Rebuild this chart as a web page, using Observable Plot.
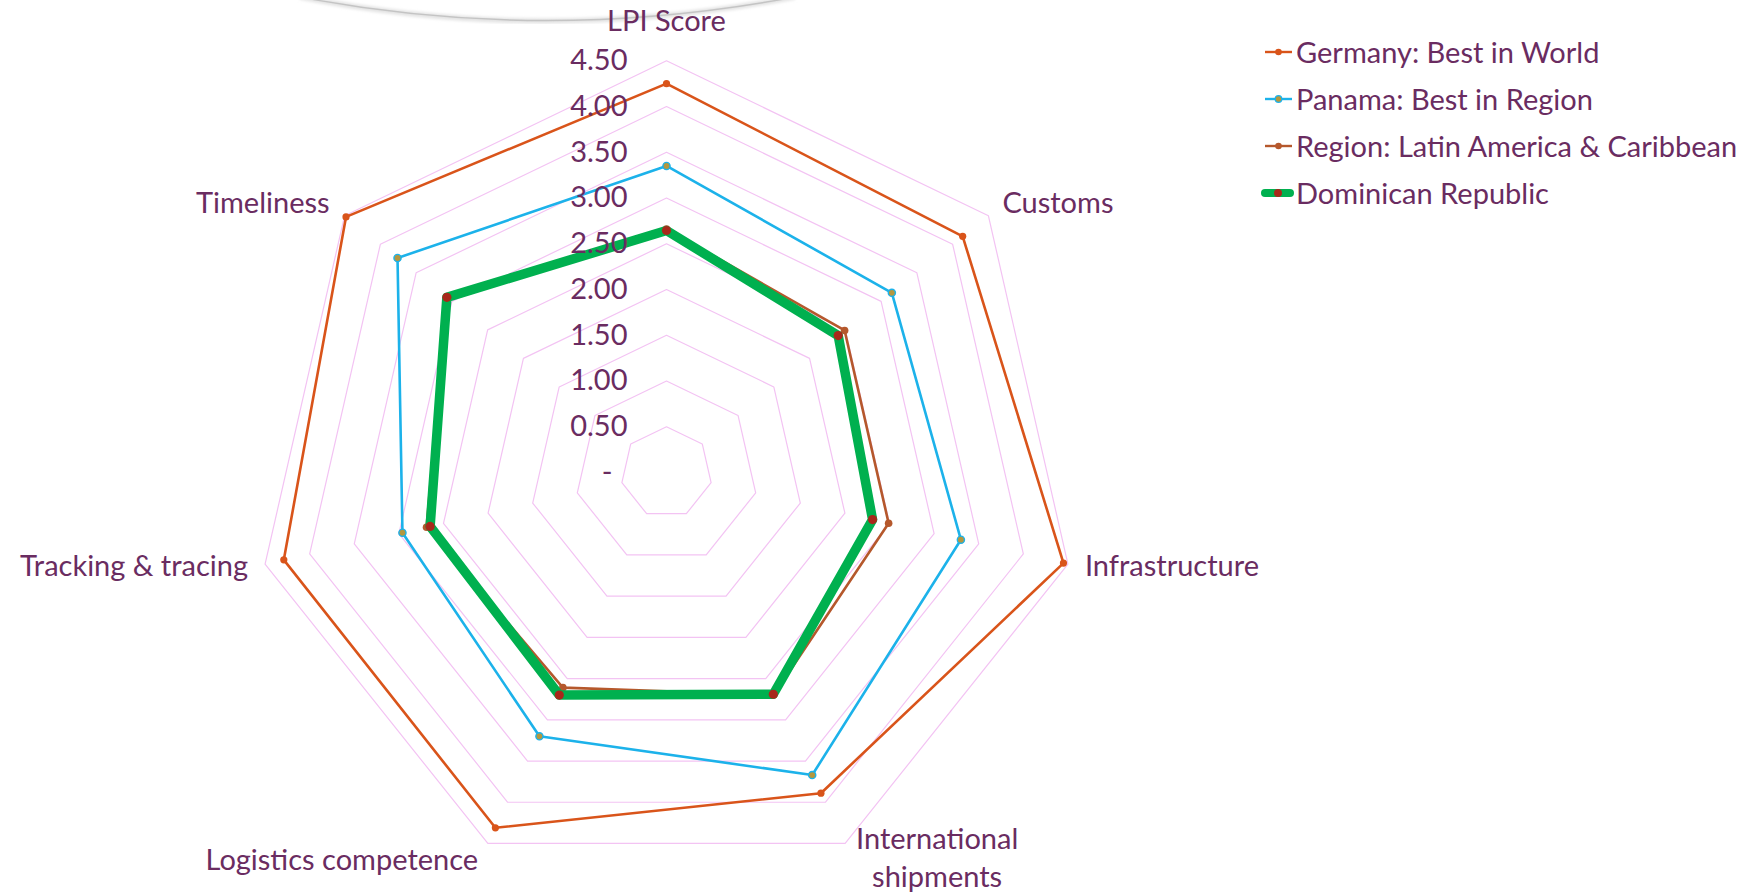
<!DOCTYPE html>
<html>
<head>
<meta charset="utf-8">
<script src="https://cdn.jsdelivr.net/npm/d3@7"></script>
<script src="https://cdn.jsdelivr.net/npm/@observablehq/plot@0.6"></script>
<style>
  html, body { margin: 0; padding: 0; background: #fff; }
  #wrap { position: relative; width: 1760px; height: 895px; overflow: hidden; font-family: Lato, "Open Sans", sans-serif; }
  #chart { position: absolute; left: 0; top: 0; }
  #arc { position: absolute; left: 0; top: 0; }
  #legend { position: absolute; left: 1260px; top: 28px; color: #6a2c61; font-size: 29px; font-family: Lato, sans-serif; }
  .item { display: flex; align-items: center; height: 47px; }
  .item svg { display: block; margin-right: 2px; }
</style>
</head>
<body>
<div id="wrap">
  <svg id="arc" width="1760" height="60">
    <defs><filter id="blur"><feGaussianBlur stdDeviation="1.8"/></filter></defs>
    <path d="M 300 -3 Q 545 45 795 -3" fill="none" stroke="#e2e2e2" stroke-width="5" filter="url(#blur)"/>
    <path d="M 300 -3 Q 545 44 795 -3" fill="none" stroke="#c4c4c4" stroke-width="1.4"/>
  </svg>
  <div id="chart"></div>
  <div id="legend"></div>
</div>
<script>
// ---- Data ----
const axes = ["LPI Score", "Customs", "Infrastructure", "International\nshipments", "Logistics competence", "Tracking & tracing", "Timeliness"];
const seriesNames = ["Germany: Best in World", "Panama: Best in Region", "Region: Latin America & Caribbean", "Dominican Republic"];
const germany   = [4.25, 4.14, 4.45, 3.89, 4.31, 4.29, 4.48];
const panama    = [3.35, 3.15, 3.30, 3.67, 3.20, 2.96, 3.76];
const region    = [2.66, 2.49, 2.49, 2.70, 2.61, 2.69, 3.07];
const dominican = [2.645, 2.40, 2.31, 2.69, 2.70, 2.65, 3.07];
const tickValues = [0, 0.5, 1, 1.5, 2, 2.5, 3, 3.5, 4, 4.5];
const tickLabels = ["-", "0.50", "1.00", "1.50", "2.00", "2.50", "3.00", "3.50", "4.00", "4.50"];

// ---- Layout ----
const W = 1760, H = 895;
const cx = 666, cy = 472, unit = 91.5;   // pixel centre and pixels per score unit
const rMax = 4.5;
const purple = "#6a2c61";
const colors = ["#d9541a", "#1cb2ea", "#b5582c", "#00b04f"];
const n = axes.length;
const ang = i => i * 2 * Math.PI / n;
const px = d => d / unit; // pixel offset -> data units

const valuesBySeries = [germany, panama, region, dominican];
const rows = valuesBySeries.flatMap((vals, s) => vals.map((v, i) => ({
  series: seriesNames[s], s, i, v,
  x: v * Math.sin(ang(i)), y: v * Math.cos(ang(i))
})));
const ringRows = tickValues.filter(v => v > 0).flatMap(v => axes.map((a, i) => ({
  v, x: v * Math.sin(ang(i)), y: v * Math.cos(ang(i))
})));

// axis label offsets (pixels) from the outer ring vertex
const labelLayout = [
  {dx: 0, dy: -42, anchor: "middle"},
  {dx: 14, dy: -15, anchor: "start"},
  {dx: 17, dy: 0, anchor: "start"},
  {dx: 92, dy: 12, anchor: "middle"},
  {dx: -146, dy: 14, anchor: "middle"},
  {dx: -17, dy: 0, anchor: "end"},
  {dx: -15, dy: -15, anchor: "end"}
];
const labelRows = axes.map((a, i) => ({
  text: a, anchor: labelLayout[i].anchor,
  x: rMax * Math.sin(ang(i)) + px(labelLayout[i].dx),
  y: rMax * Math.cos(ang(i)) - px(labelLayout[i].dy)
}));

const sel = s => rows.filter(d => d.s === s);
const font = {fontSize: 29, fill: purple, fontFamily: "Lato, sans-serif"};

const chart = Plot.plot({
  width: W, height: H, margin: 0,
  style: {background: "transparent", fontFamily: "Lato, sans-serif"},
  x: {domain: [-cx / unit, (W - cx) / unit], range: [0, W], axis: null},
  y: {domain: [-(H - cy) / unit, cy / unit], range: [H, 0], axis: null},
  marks: [
    Plot.line(ringRows, {x: "x", y: "y", z: "v", curve: "linear-closed", stroke: "#f3c3f3", strokeWidth: 1.2}),
    Plot.line(sel(0), {x: "x", y: "y", curve: "linear-closed", stroke: colors[0], strokeWidth: 2.6}),
    Plot.dot(sel(0), {x: "x", y: "y", r: 3.6, fill: colors[0]}),
    Plot.line(sel(1), {x: "x", y: "y", curve: "linear-closed", stroke: colors[1], strokeWidth: 2.6}),
    Plot.dot(sel(1), {x: "x", y: "y", r: 3.6, fill: "#b4973f", stroke: colors[1], strokeWidth: 1.4}),
    Plot.line(sel(2), {x: "x", y: "y", curve: "linear-closed", stroke: colors[2], strokeWidth: 2.6}),
    Plot.dot(sel(2), {x: "x", y: "y", r: 3.8, fill: colors[2]}),
    Plot.line(sel(3), {x: "x", y: "y", curve: "linear-closed", stroke: colors[3], strokeWidth: 9.5, strokeLinejoin: "round"}),
    Plot.dot(sel(3), {x: "x", y: "y", r: 4.6, fill: "#a8281a"}),
    Plot.text(tickValues.filter(v => v > 0), {x: () => 0, y: d => d, text: d => tickLabels[tickValues.indexOf(d)], textAnchor: "end", dx: -39, ...font}),
    Plot.text([0], {x: () => 0, y: d => d, text: d => tickLabels[tickValues.indexOf(d)], textAnchor: "end", dx: -54, ...font}),
    Plot.text(labelRows, {x: "x", y: "y", text: "text", textAnchor: "start", filter: d => d.anchor === "start", lineHeight: 1.32, ...font}),
    Plot.text(labelRows, {x: "x", y: "y", text: "text", textAnchor: "middle", filter: d => d.anchor === "middle", lineHeight: 1.32, ...font}),
    Plot.text(labelRows, {x: "x", y: "y", text: "text", textAnchor: "end", filter: d => d.anchor === "end", lineHeight: 1.32, ...font})
  ]
});
document.getElementById("chart").appendChild(chart);

// ---- Legend ----
const legend = document.getElementById("legend");
seriesNames.forEach((name, s) => {
  const item = document.createElement("div");
  item.className = "item";
  let sw;
  if (s === 3) {
    sw = `<svg width="34" height="20"><line x1="5" y1="10" x2="30" y2="10" stroke="${colors[3]}" stroke-width="8" stroke-linecap="round"/><circle cx="18" cy="10" r="4" fill="#a8281a"/></svg>`;
  } else {
    const dotFill = s === 1 ? "#b4973f" : colors[s];
    sw = `<svg width="34" height="20"><line x1="5" y1="10" x2="32" y2="10" stroke="${colors[s]}" stroke-width="2.4"/><circle cx="18.5" cy="10" r="3.3" fill="${dotFill}" ${s === 1 ? `stroke="${colors[1]}" stroke-width="1.2"` : ""}/></svg>`;
  }
  item.innerHTML = sw + `<span>${name}</span>`;
  legend.appendChild(item);
});
</script>
</body>
</html>
